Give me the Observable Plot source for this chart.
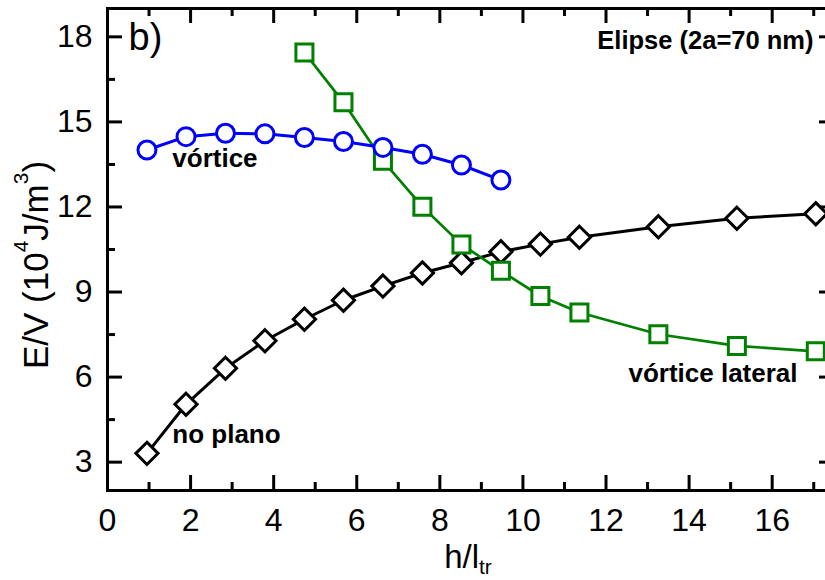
<!DOCTYPE html>
<html><head><meta charset="utf-8">
<script src="https://cdn.jsdelivr.net/npm/d3@7"></script>
<script src="https://cdn.jsdelivr.net/npm/@observablehq/plot@0.6"></script>
<style>html,body{margin:0;padding:0;overflow:hidden;background:#fff} svg{display:block}</style>
</head><body><div id="chart"></div>
<script>
// ---- data ----
const xNoPlano = [0.95,1.89,2.84,3.79,4.74,5.68,6.63,7.58,8.52,9.47,10.42,11.36,13.26,15.15,17.05];
const yNoPlano = [3.31,5.04,6.31,7.28,8.04,8.71,9.21,9.67,10.03,10.42,10.69,10.93,11.30,11.60,11.76];
const xLateral = [4.74,5.68,6.63,7.58,8.52,9.47,10.42,11.36,13.26,15.15,17.05];
const yLateral = [17.45,15.69,13.63,12.01,10.68,9.75,8.86,8.28,7.51,7.10,6.91];
const xVortice = [0.95,1.89,2.84,3.79,4.74,5.68,6.63,7.58,8.52,9.47];
const yVortice = [14.01,14.48,14.60,14.58,14.45,14.31,14.10,13.86,13.48,12.95];
const xMajor = [0,2,4,6,8,10,12,14,16];
const xMinor = [1,3,5,7,9,11,13,15,17];
const yMajor = [3,6,9,12,15,18];
const yMinor = [4.5,7.5,10.5,13.5,16.5];
const seriesLabels = [
  {label: "vórtice", x: 1.56, y: 13.72},
  {label: "no plano", x: 1.56, y: 3.97},
  {label: "vórtice lateral", x: 12.54, y: 6.13}
];

const toRows = (xs, ys) => xs.map((x, i) => ({x, y: ys[i]}));
const noPlano = toRows(xNoPlano, yNoPlano);
const lateral = toRows(xLateral, yLateral);
const vortice = toRows(xVortice, yVortice);

const W = 825, H = 580, mL = 107, mR = -9, mT = 8, mB = 90;
const plotH = H - mT - mB, plotW = W - mL - mR;
const BLUE = "#0000ff", GREEN = "#008000", BLACK = "#000000";
const font = "'Liberation Sans', Arial, Helvetica, sans-serif";

const chart = Plot.plot({
  width: W, height: H,
  marginLeft: mL, marginRight: mR, marginTop: mT, marginBottom: mB,
  x: {domain: [0, 17.5]},
  y: {domain: [2, 19]},
  style: {fontFamily: font, background: "white", color: "black"},
  marks: [
    // inward ticks on all four sides
    Plot.tickX(xMajor, {x: d => d, insetTop: plotH - 15, stroke: BLACK, strokeWidth: 3}),
    Plot.tickX(xMajor, {x: d => d, insetBottom: plotH - 15, stroke: BLACK, strokeWidth: 3}),
    Plot.tickX(xMinor, {x: d => d, insetTop: plotH - 8, stroke: BLACK, strokeWidth: 3}),
    Plot.tickX(xMinor, {x: d => d, insetBottom: plotH - 8, stroke: BLACK, strokeWidth: 3}),
    Plot.tickY(yMajor, {y: d => d, insetRight: plotW - 15, stroke: BLACK, strokeWidth: 3}),
    Plot.tickY(yMajor, {y: d => d, insetLeft: plotW - 15, stroke: BLACK, strokeWidth: 3}),
    Plot.tickY(yMinor, {y: d => d, insetRight: plotW - 8, stroke: BLACK, strokeWidth: 3}),
    Plot.tickY(yMinor, {y: d => d, insetLeft: plotW - 8, stroke: BLACK, strokeWidth: 3}),
    Plot.frame({stroke: BLACK, strokeWidth: 3}),
    Plot.axisX({ticks: xMajor, tickSize: 0, tickPadding: 18, fontSize: 32, label: null, tickFormat: d => String(d)}),
    Plot.axisY({ticks: yMajor, tickSize: 0, tickPadding: 15, fontSize: 32, label: null, tickFormat: d => String(d)}),
    // series
    Plot.line(noPlano, {x: "x", y: "y", stroke: BLACK, strokeWidth: 3}),
    Plot.dot(noPlano, {x: "x", y: "y", symbol: "diamond2", r: 10, fill: "white", stroke: BLACK, strokeWidth: 3}),
    Plot.line(lateral, {x: "x", y: "y", stroke: GREEN, strokeWidth: 2.7}),
    Plot.dot(lateral, {x: "x", y: "y", symbol: "square", r: 9.6, fill: "white", stroke: GREEN, strokeWidth: 3}),
    Plot.line(vortice, {x: "x", y: "y", stroke: BLUE, strokeWidth: 3}),
    Plot.dot(vortice, {x: "x", y: "y", symbol: "circle", r: 9, fill: "white", stroke: BLUE, strokeWidth: 3}),
    // annotations
    Plot.text(seriesLabels, {x: "x", y: "y", text: "label", textAnchor: "start", lineAnchor: "middle", fontSize: 26, fontWeight: "bold", fill: BLACK}),
    Plot.text(["b)"], {text: d => d, frameAnchor: "top-left", dx: 21, dy: 15, lineAnchor: "top", textAnchor: "start", fontSize: 38, fill: BLACK}),
    Plot.text(["Elipse (2a=70 nm)"], {text: d => d, frameAnchor: "top-right", dx: -21, dy: 22, lineAnchor: "top", textAnchor: "end", fontSize: 25.5, fontWeight: "bold", fill: BLACK})
  ]
});

// axis titles with super/subscripts
const svg = d3.select(chart);
const yl = svg.append("text")
  .attr("transform", "translate(48,265) rotate(-90)")
  .attr("text-anchor", "middle")
  .attr("font-family", font)
  .attr("font-size", 35)
  .attr("fill", "black");
yl.append("tspan").text("E/V (10");
yl.append("tspan").attr("dy", -20).attr("font-size", 21).text("4");
yl.append("tspan").attr("dy", 20).text("J/m");
yl.append("tspan").attr("dy", -20).attr("font-size", 21).text("3");
yl.append("tspan").attr("dy", 20).text(")");

const xl = svg.append("text")
  .attr("x", 468).attr("y", 568)
  .attr("font-family", font)
  .attr("font-size", 33)
  .attr("fill", "black");
xl.append("tspan").text("h/l");
xl.append("tspan").attr("dy", 6).attr("font-size", 21).text("tr");

document.getElementById("chart").appendChild(chart);
</script>
</body></html>
